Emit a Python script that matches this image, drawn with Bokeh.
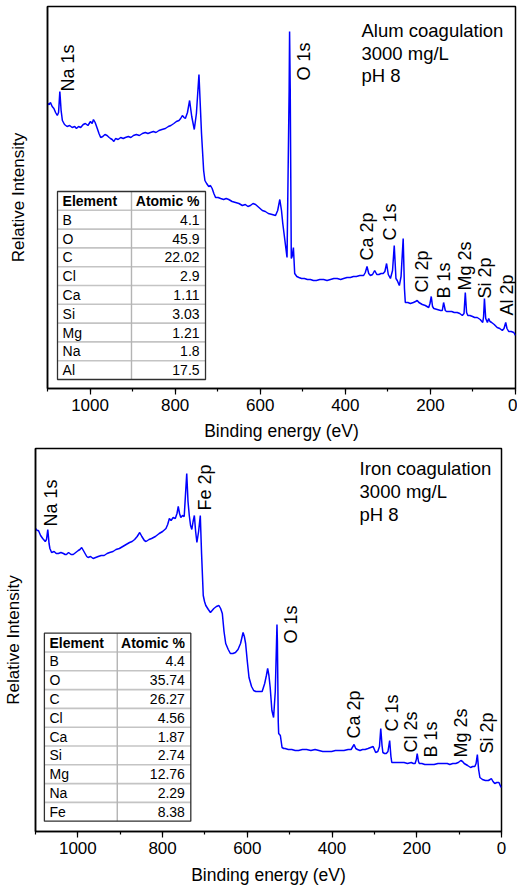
import numpy as np
from bokeh.plotting import figure
from bokeh.models import Range1d, SingleIntervalTicker, FixedTicker
from bokeh.embed import file_html
from bokeh.resources import INLINE
from bokeh.core.properties import value

# ---------------- data ----------------
alum_be = [1100, 1096, 1093, 1089, 1085, 1081, 1077, 1074, 1071, 1068,
           1065, 1060, 1054, 1048, 1042, 1036, 1032, 1027, 1022, 1016,
           1011, 1005, 999, 995, 992, 988, 983, 979, 975, 970,
           965, 960, 955, 952, 948, 944, 940, 934, 928, 922,
           917, 910, 904, 898, 891, 884, 877, 870, 864, 858,
           851, 845, 838, 831, 823, 816, 810, 803, 797, 791,
           787, 783, 779, 776, 771, 766, 761, 755, 750, 744,
           738, 733, 730, 726, 721, 717, 713, 709, 705, 699,
           693, 686, 680, 674, 666, 658, 650, 642, 635, 629,
           623, 617, 611, 603, 595, 588, 581, 572, 564, 559,
           554, 550, 547, 542, 537, 532, 531, 529.5, 527, 525,
           522, 519, 514, 509, 503, 496, 489, 482, 475, 468,
           460, 451, 443, 435, 427, 419, 411, 404, 396, 388,
           381, 374, 366, 357, 353, 349, 345, 341, 336, 331,
           326, 321, 316, 311, 307, 303, 299, 294, 289, 285,
           281, 278, 273, 269, 264, 261, 259, 253, 247, 240,
           235, 231, 227, 219, 212, 208, 204, 201, 198, 195,
           192, 184, 176, 172, 169, 165, 162, 156, 150, 144,
           137, 131, 125, 121, 118, 115, 112, 107, 101, 96,
           90, 83, 77, 75, 73, 70, 66, 63, 60, 56,
           50, 43, 37, 31, 27, 23, 20, 16, 10, 4,
           0]
alum_int = [285, 284, 286, 282, 280, 276, 273, 276, 297, 278,
            268, 264, 262, 263, 261, 262, 260, 262, 261, 264,
            265, 263, 267, 265, 269, 266, 260, 255, 251, 252,
            254, 253, 251, 250, 249, 247, 250, 249, 251, 250,
            251, 252, 251, 253, 254, 253, 255, 256, 255, 256,
            257, 256, 258, 259, 260, 262, 263, 265, 267, 268,
            270, 273, 271, 270, 276, 288, 272, 259, 275, 314,
            255, 218, 208, 205, 202, 203, 200, 195, 191, 191,
            190, 189, 190, 189, 187, 186, 185, 183, 184, 182,
            183, 185, 184, 181, 178, 177, 175, 174, 173, 178,
            189, 178, 165, 148, 131, 300, 357, 300, 130, 132,
            141, 115, 112, 111, 110, 110, 109, 109, 108, 108,
            109, 109, 108, 109, 110, 110, 109, 110, 111, 111,
            112, 112, 113, 113, 116, 122, 115, 113, 114, 118,
            114, 114, 115, 115, 117, 125, 114, 110, 118, 143,
            110, 108, 103, 112, 150, 100, 86, 86, 85, 86,
            87, 88, 86, 84, 83, 82, 81, 85, 92, 82,
            80, 79, 78, 78, 86, 78, 77, 77, 77, 76,
            76, 75, 73, 75, 96, 76, 73, 73, 72, 71,
            71, 69, 66, 72, 90, 70, 66, 70, 67, 66,
            64, 61, 60, 58, 60, 66, 60, 57, 57, 56,
            53]

iron_be = [1100, 1096, 1093, 1088, 1083, 1077, 1074, 1071, 1068, 1066,
           1062, 1056, 1051, 1046, 1040, 1034, 1030, 1027, 1022, 1016,
           1011, 1005, 999, 995, 991, 987, 983, 979, 976, 970,
           964, 958, 952, 945, 938, 931, 925, 917, 910, 902,
           894, 886, 878, 872, 866, 860, 854, 849, 843, 839,
           832, 826, 817, 808, 800, 792, 788, 784, 780, 775,
           770, 766, 763, 760, 757, 753, 749, 743, 740, 737,
           734, 731, 728, 725, 722, 719, 715, 711, 708, 704,
           701, 698, 692, 687, 683, 679, 673, 667, 663, 659,
           655, 651, 645, 640, 634, 628, 622, 616, 610, 607,
           604, 600, 596, 590, 585, 580, 575, 570, 565, 559,
           555, 552, 549, 546, 542, 538, 534, 531, 530, 529,
           527, 526, 522, 518, 514, 511, 503, 495, 487, 479,
           470, 460, 450, 440, 431, 422, 412, 401, 392, 382,
           372, 362, 355, 348, 344, 340, 334, 328, 322, 315,
           309, 303, 297, 292, 288, 285, 282, 280, 276, 272,
           268, 264, 261, 259, 252, 245, 238, 230, 222, 213,
           208, 204, 201, 199, 196, 194, 188, 181, 174, 167,
           159, 150, 143, 135, 128, 122, 115, 108, 102, 99,
           96, 92, 88, 80, 73, 68, 63, 60, 57, 54,
           51, 45, 38, 31, 27, 24, 20, 16, 11, 6,
           3, 0]
iron_int = [303, 301, 301, 296, 293, 290, 292, 302, 288, 283,
            279, 280, 278, 278, 279, 278, 277, 277, 279, 277,
            277, 279, 281, 282, 284, 281, 278, 275, 274, 275,
            273, 274, 275, 276, 276, 278, 279, 280, 282, 283,
            285, 287, 289, 290, 292, 295, 299, 295, 291, 290,
            292, 293, 295, 298, 300, 303, 307, 313, 311, 314,
            313, 318, 325, 318, 314, 316, 315, 358, 330, 316,
            306, 302, 310, 316, 300, 289, 300, 316, 278, 236,
            230, 226, 222, 219, 221, 223, 225, 226, 223, 218,
            200, 188, 182, 178, 178, 179, 182, 188, 199, 195,
            188, 170, 154, 145, 141, 140, 140, 140, 140, 148,
            156, 163, 156, 144, 121, 114, 140, 190, 207, 190,
            110, 98, 96, 84, 83, 83, 82, 82, 81, 81,
            82, 82, 81, 82, 81, 80, 80, 80, 81, 81,
            81, 82, 82, 87, 83, 82, 81, 82, 82, 83,
            84, 85, 79, 80, 85, 103, 86, 79, 78, 78,
            80, 91, 75, 69, 69, 69, 69, 69, 68, 69,
            68, 68, 72, 78, 70, 68, 68, 67, 67, 67,
            67, 68, 68, 68, 68, 67, 68, 68, 69, 70,
            71, 70, 68, 66, 64, 65, 65, 68, 77, 62,
            54, 52, 51, 51, 52, 53, 50, 48, 49, 49,
            46, 44]

alum_peak_names = ["Na 1s", "O 1s", "Ca 2p", "C 1s", "Cl 2p", "B 1s", "Mg 2s", "Si 2p", "Al 2p"]
alum_peak_be = [1051, 496, 350, 294, 219, 167, 118, 72, 21]
alum_peak_y = [297, 308, 128, 148, 96, 90, 98, 90, 73]

iron_peak_names = ["Na 1s", "Fe 2p", "O 1s", "Ca 2p", "C 1s", "Cl 2s", "B 1s", "Mg 2s", "Si 2p"]
iron_peak_be = [1064, 701, 497, 348, 258, 213, 167, 96, 34]
iron_peak_y = [305, 321, 188, 93, 100, 79, 74, 74, 78]

alum_elements = ["B", "O", "C", "Cl", "Ca", "Si", "Mg", "Na", "Al"]
alum_atomic = ["4.1", "45.9", "22.02", "2.9", "1.11", "3.03", "1.21", "1.8", "17.5"]
iron_elements = ["B", "O", "C", "Cl", "Ca", "Si", "Mg", "Na", "Fe"]
iron_atomic = ["4.4", "35.74", "26.27", "4.56", "1.87", "2.74", "12.76", "2.29", "8.38"]

alum_note = ["Alum coagulation", "3000 mg/L", "pH 8"]
iron_note = ["Iron coagulation", "3000 mg/L", "pH 8"]

FONT = "Liberation Sans"


def make_fig(w, h, b_left, b_right, b_top, b_bottom, ymax, ylab_standoff,
             tick_standoff, xlab_standoff):
    p = figure(width=w, height=h, x_range=Range1d(1100, 0),
               y_range=Range1d(0, ymax), output_backend="svg",
               toolbar_location=None, min_border_left=b_left,
               min_border_right=b_right, min_border_top=b_top,
               min_border_bottom=b_bottom)
    p.grid.visible = False
    p.outline_line_color = "black"
    p.outline_line_width = 1.5
    p.background_fill_color = "white"
    p.border_fill_color = "white"

    xa = p.xaxis[0]
    xa.ticker = SingleIntervalTicker(interval=200, num_minor_ticks=2)
    xa.axis_label = "Binding energy (eV)"
    xa.axis_label_text_font = FONT
    xa.axis_label_text_font_size = "17.5px"
    xa.axis_label_text_font_style = "normal"
    xa.axis_label_text_color = "black"
    xa.axis_label_standoff = xlab_standoff
    xa.major_label_text_font = FONT
    xa.major_label_text_font_size = "17px"
    xa.major_label_text_color = "black"
    xa.major_label_standoff = tick_standoff
    xa.major_tick_in = 0
    xa.major_tick_out = 6
    xa.minor_tick_in = 0
    xa.minor_tick_out = 3
    xa.axis_line_width = 1.5
    xa.major_tick_line_width = 1.2
    xa.minor_tick_line_width = 1.2

    ya = p.yaxis[0]
    ya.ticker = FixedTicker(ticks=[])
    ya.axis_label = "Relative Intensity"
    ya.axis_label_text_font = FONT
    ya.axis_label_text_font_size = "17px"
    ya.axis_label_text_font_style = "normal"
    ya.axis_label_text_color = "black"
    ya.axis_label_standoff = ylab_standoff
    ya.major_tick_out = 0
    ya.major_tick_in = 0
    ya.minor_tick_out = 0
    ya.minor_tick_in = 0
    ya.major_label_standoff = 0
    ya.axis_line_width = 1.5
    return p


def draw_table(p, left, mid, right, top, bottom, elements, values):
    n = len(elements) + 1
    h = (top - bottom) / n
    ys = [top - h * i for i in range(1, n)]
    p.segment(x0=[left] * len(ys), x1=[right] * len(ys), y0=ys, y1=ys,
              line_color="#c4c4c4", line_width=1.6)
    p.segment(x0=[mid], x1=[mid], y0=[bottom], y1=[top],
              line_color="#b4b4b4", line_width=1.4)
    p.quad(left=[left], right=[right], top=[top], bottom=[bottom],
           fill_color=None, line_color="#303030", line_width=1.3)
    pad_l = 12
    pad_r = 14
    centers = [top - h * (i + 0.5) for i in range(n)]
    p.text(x=[left - pad_l], y=[centers[0]], text=["Element"],
           text_font=value(FONT), text_font_size="14px", text_font_style="bold",
           text_align="left", text_baseline="middle", text_color="black")
    p.text(x=[right + pad_r], y=[centers[0]], text=["Atomic %"],
           text_font=value(FONT), text_font_size="14px", text_font_style="bold",
           text_align="right", text_baseline="middle", text_color="black")
    p.text(x=[left - pad_l] * len(elements), y=centers[1:], text=elements,
           text_font=value(FONT), text_font_size="14px",
           text_align="left", text_baseline="middle", text_color="black")
    p.text(x=[right + pad_r] * len(values), y=centers[1:], text=values,
           text_font=value(FONT), text_font_size="14px",
           text_align="right", text_baseline="middle", text_color="black")


def draw_common(p, be, inten, pk_names, pk_be, pk_y, note, note_x, note_y0, note_dy):
    p.line(be, inten, line_color="#0000ff", line_width=1.5)
    p.text(x=pk_be, y=pk_y, text=pk_names, angle=np.pi / 2,
           text_font=value(FONT), text_font_size="18px",
           text_align="left", text_baseline="middle", text_color="black")
    p.text(x=[note_x] * len(note), y=[note_y0 - note_dy * i for i in range(len(note))],
           text=note, text_font=value(FONT), text_font_size="18.5px",
           text_align="left", text_baseline="alphabetic", text_color="black")


# ---------------- top: alum ----------------
p1 = make_fig(w=517, h=444, b_left=47, b_right=2, b_top=6, b_bottom=56, ymax=382,
              ylab_standoff=20, tick_standoff=4, xlab_standoff=7)
draw_common(p1, alum_be, alum_int, alum_peak_names, alum_peak_be, alum_peak_y,
            alum_note, 362, 358, 22.5)
draw_table(p1, 1076.5, 902.6, 728.6, 197, 9, alum_elements, alum_atomic)

# ---------------- bottom: iron ----------------
p2 = make_fig(w=517, h=446, b_left=32, b_right=16, b_top=4, b_bottom=59, ymax=383,
              ylab_standoff=13, tick_standoff=4, xlab_standoff=8)
draw_common(p2, iron_be, iron_int, iron_peak_names, iron_peak_be, iron_peak_y,
            iron_note, 335, 363, 23)
draw_table(p2, 1079, 907, 733.4, 198.3, 10.3, iron_elements, iron_atomic)

# two independent roots (no frame alignment between them), stacked on the page
open("out.html", "w").write(file_html([p1, p2], INLINE))
